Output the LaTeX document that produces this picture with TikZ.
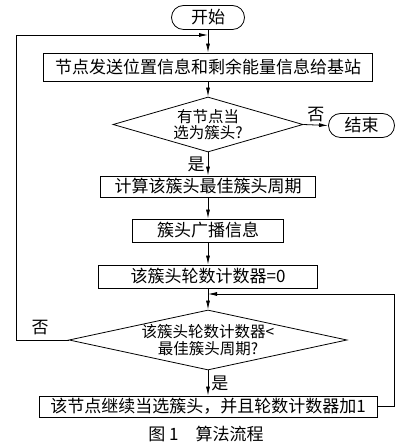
\documentclass[tikz,border=0pt]{standalone}
\usepackage{fontspec}
\setmainfont{Noto Sans CJK SC}
\usetikzlibrary{shapes.geometric,arrows.meta}

\begin{document}
\begin{tikzpicture}[x=1pt, y=1pt, line width=0.8pt,
    >={Latex[length=9pt,width=4pt]},
    every node/.style={font=\fontsize{17}{19}\selectfont},
    stepbox/.style={draw, minimum height=23pt, inner sep=2pt},
    term/.style={draw, rounded corners=12pt, minimum height=24pt},
    decide/.style={draw, diamond, align=center, inner sep=-5pt,
      font=\fontsize{15.5}{16.5}\selectfont}]
    \useasboundingbox (0,0) rectangle (415,444);

    % start and end
    \node[term, minimum width=73pt] (start) at (208,426.5) {开始};
    \node[term, minimum width=66pt] (stop) at (361.5,318.5) {结束};

    % steps
    \node[stepbox, minimum width=329pt, minimum height=28pt] (send) at (208,377) {节点发送位置信息和剩余能量信息给基站};
    \node[decide, aspect=3.45, minimum width=190pt, minimum height=55pt] (chosen) at (208,319.5) {有节点当\\选为簇头?};
    \node[stepbox, minimum width=215pt, minimum height=21pt] (period) at (208,257.5) {计算该簇头最佳簇头周期};
    \node[stepbox, minimum width=151pt] (bcast) at (208,213.5) {簇头广播信息};
    \node[stepbox, minimum width=219pt] (reset) at (208,167.5) {该簇头轮数计数器=0};
    \node[decide, aspect=4.6, minimum width=278pt, minimum height=60pt] (check) at (208,104) {该簇头轮数计数器<\\最佳簇头周期?};
    \node[stepbox, minimum width=338pt, minimum height=21pt] (keep) at (208,37.5) {该节点继续当选簇头，并且轮数计数器加1};

    % joints of the two loops
    \coordinate (topjoin) at (208,409);
    \coordinate (midjoin) at (208,150);

    \draw[->] (start) -- (send);
    \draw[->] (send) -- (chosen);
    \draw[->] (chosen.east) -- node[above, inner sep=3pt] {否} (stop.west);
    \draw[->] (chosen.south) -- node[left, inner sep=3pt] {是} (period.north);
    \draw[->] (period) -- (bcast);
    \draw[->] (bcast) -- (reset);
    \draw[->] (reset) -- (check);
    \draw[->] (check.south) -- node[right, inner sep=3pt] {是} (keep.north);

    % loops
    \draw[->] (check.west) -- node[above, pos=0.55, inner sep=5pt] {否} ++(-52,0) |- (topjoin);
    \draw[->] (keep.east) -- ++(17,0) |- (midjoin);

    % caption
    \node[inner sep=0pt] (caption) at (206,10) {图 1\hspace{1em}算法流程};
  \end{tikzpicture}
\end{document}
